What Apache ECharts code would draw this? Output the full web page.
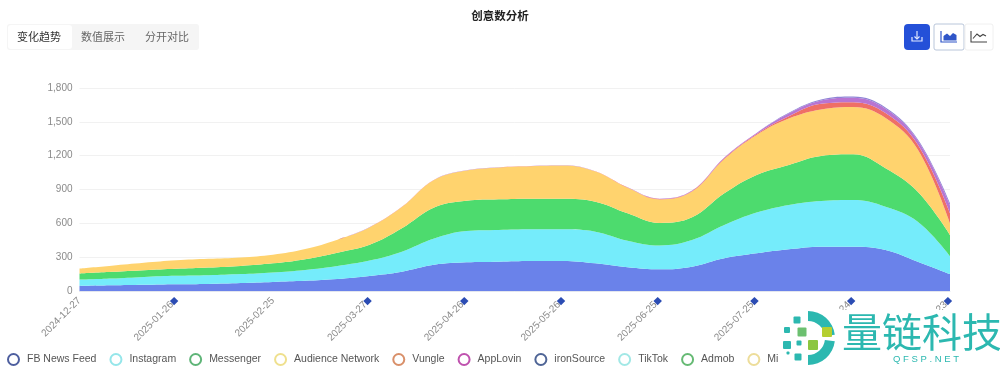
<!DOCTYPE html>
<html><head><meta charset="utf-8">
<style>html,body{margin:0;padding:0;background:#fff}#c{width:1000px;height:370px;filter:blur(0.45px)}</style>
<script src="https://cdn.jsdelivr.net/npm/echarts@6/dist/echarts.min.js"></script>
</head><body><div id="c"></div>
<script>
const dates=['2024-12-27','2025-01-06','2025-01-16','2025-01-26','2025-02-05','2025-02-15','2025-02-25','2025-03-07','2025-03-17','2025-03-27','2025-04-06','2025-04-16','2025-04-26','2025-05-06','2025-05-16','2025-05-26','2025-06-05','2025-06-15','2025-06-25','2025-07-05','2025-07-15','2025-07-25','2025-08-04','2025-08-14','2025-08-24','2025-09-03','2025-09-13','2025-09-23'];
const fbNewsFeed=[45,50,55,60,62,70,80,90,106,133,171,232,254,260,266,266,245,210,192,216,290,334,370,393,393,364,260,150];
const instagram=[55,60,70,75,78,80,85,97,116,137,178,233,278,281,281,281,281,236,212,236,295,361,393,405,414,384,355,160];
const messenger=[55,60,60,62,68,72,80,95,118,140,207,275,268,272,272,272,266,243,199,201,281,334,355,400,405,340,265,187];
const audienceNetwork=[45,55,65,75,77,76,77,90,115,155,189,245,268,282,288,293,268,226,209,229,304,355,412,412,420,447,375,103];
const vungle=[0,0,0,0,0,0,0,0,0,1,1,1,1,1,1,1,1,2,4,5,6,8,20,50,42,44,44,89];
const appLovin=[0,0,0,0,0,0,0,0,0,1,1,1,1,1,1,1,1,2,3,4,8,10,25,30,40,38,36,70];
const ironSource=[0,0,0,0,0,0,0,0,0,0,0,0,0,0,0,0,0,0,0,0,0,0,5,8,10,10,10,20];
const tikTok=[0,0,0,0,0,0,0,0,0,0,0,0,0,0,0,0,0,0,0,0,0,0,0,0,0,0,0,0];
const admob=[0,0,0,0,0,0,0,0,0,0,0,0,0,0,0,0,0,0,0,0,0,0,0,0,0,0,0,0];
const mintegral=[0,0,0,0,0,0,0,0,0,0,0,0,0,0,0,0,0,0,0,0,0,0,0,0,0,0,0,0];
const seriesNames=['FB News Feed','Instagram','Messenger','Audience Network','Vungle','AppLovin','ironSource','TikTok','Admob','Mintegral'];
const seriesValues=[fbNewsFeed,instagram,messenger,audienceNetwork,vungle,appLovin,ironSource,tikTok,admob,mintegral];
const areaColors=['#6a82ea','#75ecfb','#4ddb6e','#ffd36e','#ef6f66','#b874d2','#8f82d6','#75ecfb','#4ddb6e','#ffd36e'];
const ringColors=['#4e5f9f','#95e6ea','#5fb578','#efe08e','#d9906a','#bf52ae','#4f6596','#a2e8e6','#66ba74','#eddd9a'];
const titleText='创意数分析';
const tabLabels=['变化趋势','数值展示','分开对比'];
const plainLabels=['2024-12-27','2025-02-25'];
const cjk='"Noto Sans CJK SC","Noto Sans",sans-serif';
const latin='"Liberation Sans",sans-serif';
const teal='#2cb8b0';
const sq=(x,y,s,c)=>({type:'rect',z:102,shape:{x:x-s/2,y:y-s/2,width:s,height:s,r:1},style:{fill:c}});
const graphic=[
 {type:'text',z:50,x:500,y:16,style:{text:titleText,font:'bold 11.5px '+cjk,fill:'#222',textAlign:'center',textVerticalAlign:'middle'}},
 {type:'rect',z:50,shape:{x:7,y:24,width:192,height:26,r:3},style:{fill:'#f5f5f5'}},
 {type:'rect',z:51,shape:{x:8,y:25,width:64,height:24,r:3},style:{fill:'#fff'}},
 {type:'text',z:52,x:39,y:37,style:{text:tabLabels[0],font:'11px '+cjk,fill:'#333',textAlign:'center',textVerticalAlign:'middle'}},
 {type:'text',z:52,x:103,y:37,style:{text:tabLabels[1],font:'11px '+cjk,fill:'#666',textAlign:'center',textVerticalAlign:'middle'}},
 {type:'text',z:52,x:167,y:37,style:{text:tabLabels[2],font:'11px '+cjk,fill:'#666',textAlign:'center',textVerticalAlign:'middle'}},
 {type:'rect',z:50,shape:{x:904,y:24,width:26,height:26,r:4},style:{fill:'#2450d8'}},
 {type:'polyline',z:51,shape:{points:[[917,31],[917,39]]},style:{stroke:'#dfe7ff',lineWidth:1.2,fill:'none'}},
 {type:'polyline',z:51,shape:{points:[[914.5,36.5],[917,39],[919.5,36.5]]},style:{stroke:'#dfe7ff',lineWidth:1.2,fill:'none'}},
 {type:'polyline',z:51,shape:{points:[[912,37],[912,41],[922,41],[922,37]]},style:{stroke:'#dfe7ff',lineWidth:1.2,fill:'none'}},
 {type:'rect',z:50,shape:{x:934,y:24,width:30,height:26,r:2},style:{fill:'#fff',stroke:'#b9c6da',lineWidth:1}},
 {type:'rect',z:50,shape:{x:965,y:24,width:28,height:26,r:2},style:{fill:'#fff',stroke:'#f0f0f0',lineWidth:1}},
 {type:'polyline',z:51,shape:{points:[[941,31],[941,42],[957,42]]},style:{stroke:'#2f55c8',lineWidth:1.2,fill:'none'}},
 {type:'polygon',z:51,shape:{points:[[943.5,40.5],[943.5,36],[947,33.5],[950,36],[953,33],[956.5,35],[956.5,40.5]]},style:{fill:'#2f55c8'}},
 {type:'polyline',z:51,shape:{points:[[971,31],[971,42],[987,42]]},style:{stroke:'#444',lineWidth:1.1,fill:'none'}},
 {type:'polyline',z:51,shape:{points:[[973,38.5],[977,34],[980,36.5],[983,34.5],[986,36]]},style:{stroke:'#444',lineWidth:1.1,fill:'none'}},
 {type:'rect',z:100,shape:{x:779,y:310,width:221,height:60},style:{fill:'#fff'}},
 {type:'sector',z:101,shape:{cx:808,cy:338,r:27,r0:17,startAngle:-Math.PI/2,endAngle:-0.12,clockwise:true},style:{fill:teal}},
 {type:'sector',z:101,shape:{cx:808,cy:338,r:27,r0:17,startAngle:0.12,endAngle:Math.PI/2,clockwise:true},style:{fill:teal}},
 sq(797,320,7,teal),sq(787,330,6,teal),sq(802,332,9,'#6cc070'),sq(827,332,10,'#b5cf30'),sq(787,345,8,teal),sq(799,343,5,teal),sq(813,345,10,'#8cc640'),sq(798,357,7,teal),sq(788,353,3,teal),
 {type:'text',z:102,x:842,y:332,style:{text:'量链科技',font:'40px "Noto Sans CJK SC",sans-serif',fill:teal,textAlign:'left',textVerticalAlign:'middle'}},
 {type:'text',z:102,x:926,y:359,style:{text:'Q F S P . N E T',font:'9.5px "Liberation Sans",sans-serif',fill:teal,textAlign:'center',textVerticalAlign:'middle'}}
];
const chart=echarts.init(document.getElementById('c'),null,{renderer:'canvas'});
chart.setOption({
 animation:false,backgroundColor:'#fff',
 grid:{left:79.5,right:50,top:88,bottom:79,containLabel:false},
 legend:{left:2,top:348,icon:'circle',itemWidth:11,itemHeight:11,itemGap:13,
  textStyle:{color:'#555',fontSize:10.5,fontFamily:latin,padding:[0,0,0,3]},
  data:seriesNames.map((n,i)=>({name:n,itemStyle:{color:'#fff',borderColor:ringColors[i],borderWidth:2}}))},
 xAxis:{type:'category',data:dates,boundaryGap:false,
  axisLine:{lineStyle:{color:'#e3e6ee'}},axisTick:{show:false},
  axisLabel:{interval:2,rotate:45,color:'#8a8a8a',fontSize:10,margin:8,fontFamily:latin,
   formatter:v=>plainLabels.includes(v)?v:v+'{m|}',
   rich:{m:{backgroundColor:'#2b4cb3',width:6,height:6}}}},
 yAxis:{type:'value',min:0,max:1800,interval:300,
  axisLine:{show:false},axisTick:{show:false},
  splitLine:{lineStyle:{color:'#f1f1f1'}},
  axisLabel:{color:'#8a8a8a',fontSize:10,margin:7,fontFamily:latin,
   formatter:v=>v.toLocaleString('en-US')}},
 series:seriesNames.map((n,i)=>({name:n,type:'line',stack:'t',smooth:0.4,showSymbol:false,symbol:'none',
  data:seriesValues[i],itemStyle:{color:areaColors[i]},lineStyle:{width:0},areaStyle:{color:areaColors[i],opacity:1}})),
 graphic:{elements:graphic}
});
</script></body></html>
